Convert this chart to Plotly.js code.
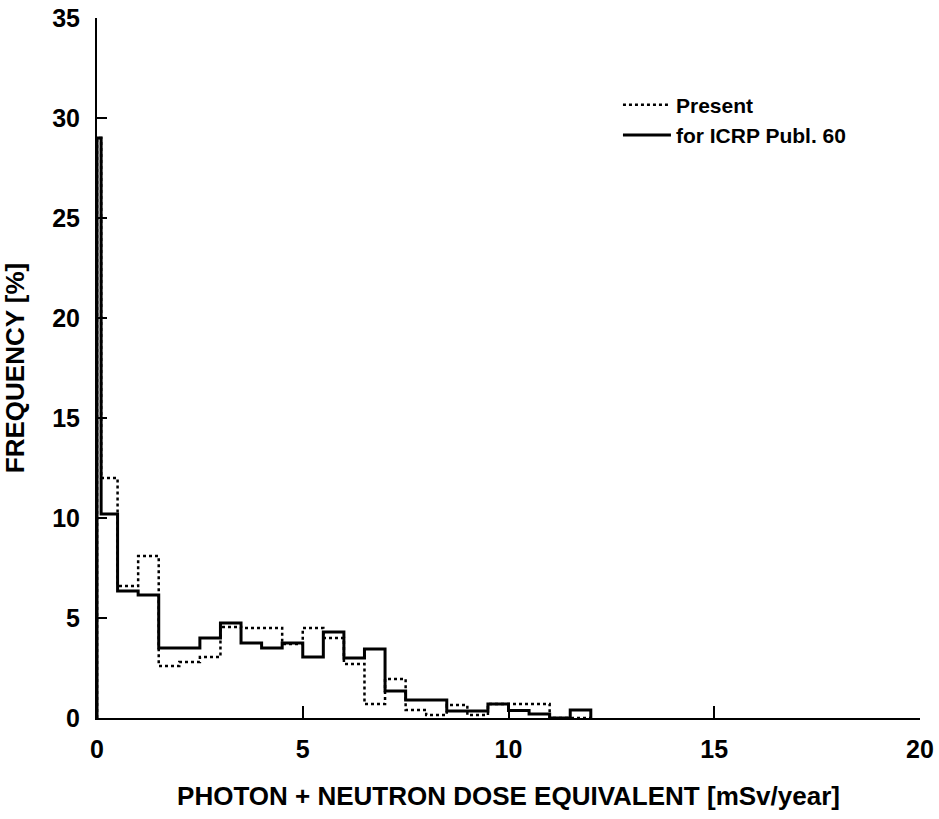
<!DOCTYPE html>
<html>
<head>
<meta charset="utf-8">
<script src="https://cdn.plot.ly/plotly-3.0.1.min.js"></script>
<style>
  html, body { margin: 0; padding: 0; background: #fff; }
  #chart { width: 939px; height: 819px; }
</style>
</head>
<body>
<div id="chart"></div>
<script>
// Bin edges of the histogram (mSv/year)
const binEdges = [0, 0.1, 0.5, 1.0, 1.5, 2.0, 2.5, 3.0, 3.5, 4.0, 4.5, 5.0, 5.5, 6.0,
                  6.5, 7.0, 7.5, 8.0, 8.5, 9.0, 9.5, 10.0, 10.5, 11.0, 11.5, 12.0];

// Frequency [%] per bin — "Present" (dotted)
const presentFreq = [29.0, 12.0, 6.6, 8.1, 2.6, 2.8, 3.05, 4.55, 4.5, 4.5, 3.7, 4.5, 4.0,
                     2.7, 0.7, 1.95, 0.4, 0.15, 0.65, 0.15, 0.7, 0.7, 0.7, 0.0, 0.0];

// Frequency [%] per bin — "for ICRP Publ. 60" (solid)
const icrpFreq = [29.0, 10.2, 6.35, 6.15, 3.5, 3.5, 4.0, 4.75, 3.75, 3.5, 3.75, 3.05, 4.3,
                  3.0, 3.45, 1.35, 0.9, 0.9, 0.35, 0.35, 0.7, 0.38, 0.2, 0.0, 0.4];

const xTickVals = [0, 5, 10, 15, 20];
const yTickVals = [0, 5, 10, 15, 20, 25, 30, 35];

const seriesNames = ["Present", "for ICRP Publ. 60"];
const xTitle = "PHOTON + NEUTRON DOSE EQUIVALENT [mSv/year]";
const yTitle = "FREQUENCY [%]";

// Build step outlines: start at baseline, then each bin's left edge with its value, close at last edge
function stepXY(edges, vals) {
  const x = [edges[0]];
  const y = [0];
  for (let i = 0; i < vals.length; i++) {
    x.push(edges[i]);
    y.push(vals[i]);
  }
  x.push(edges[edges.length - 1]);
  y.push(0);
  return {x, y};
}

const p = stepXY(binEdges, presentFreq);
const c = stepXY(binEdges, icrpFreq);

const font = "Arial, 'Liberation Sans', Helvetica, sans-serif";

const traces = [
  {
    x: p.x, y: p.y, type: "scatter", mode: "lines", name: seriesNames[0],
    line: {shape: "hv", color: "#000", width: 2.5, dash: "dot"},
    cliponaxis: false
  },
  {
    x: c.x, y: c.y, type: "scatter", mode: "lines", name: seriesNames[1],
    line: {shape: "hv", color: "#000", width: 3},
    cliponaxis: false
  }
];

const layout = {
  width: 939, height: 819,
  margin: {l: 97, r: 19, t: 18, b: 101},
  paper_bgcolor: "#fff", plot_bgcolor: "#fff",
  font: {family: font, color: "#000", size: 24, weight: "bold"},
  showlegend: true,
  legend: {
    x: 0.633, y: 0.905, xanchor: "left", yanchor: "top",
    font: {family: font, size: 21, color: "#000", weight: "bold"},
    bgcolor: "rgba(0,0,0,0)", borderwidth: 0,
    itemwidth: 48, tracegroupgap: 0
  },
  xaxis: {
    range: [0, 20], tickvals: xTickVals, ticktext: xTickVals.map(String),
    ticks: "inside", ticklen: 12, tickwidth: 2, tickcolor: "#000",
    showline: true, linecolor: "#000", linewidth: 2,
    showgrid: false, zeroline: false, mirror: false,
    tickfont: {family: font, size: 25, color: "#000", weight: "bold"},
    ticklabelstandoff: 8,
    title: {text: xTitle, font: {family: font, size: 26, color: "#000", weight: "bold"}, standoff: 25},
    automargin: false
  },
  yaxis: {
    range: [0, 35], tickvals: yTickVals, ticktext: yTickVals.map(String),
    ticks: "inside", ticklen: 10, tickwidth: 2, tickcolor: "#000",
    showline: true, linecolor: "#000", linewidth: 2,
    showgrid: false, zeroline: false, mirror: false,
    tickfont: {family: font, size: 25, color: "#000", weight: "bold"},
    ticklabelstandoff: 10,
    title: {text: yTitle, font: {family: font, size: 26, color: "#000", weight: "bold"}, standoff: 21},
    automargin: false
  }
};

Plotly.newPlot("chart", traces, layout, {displayModeBar: false, staticPlot: true});
</script>
</body>
</html>
